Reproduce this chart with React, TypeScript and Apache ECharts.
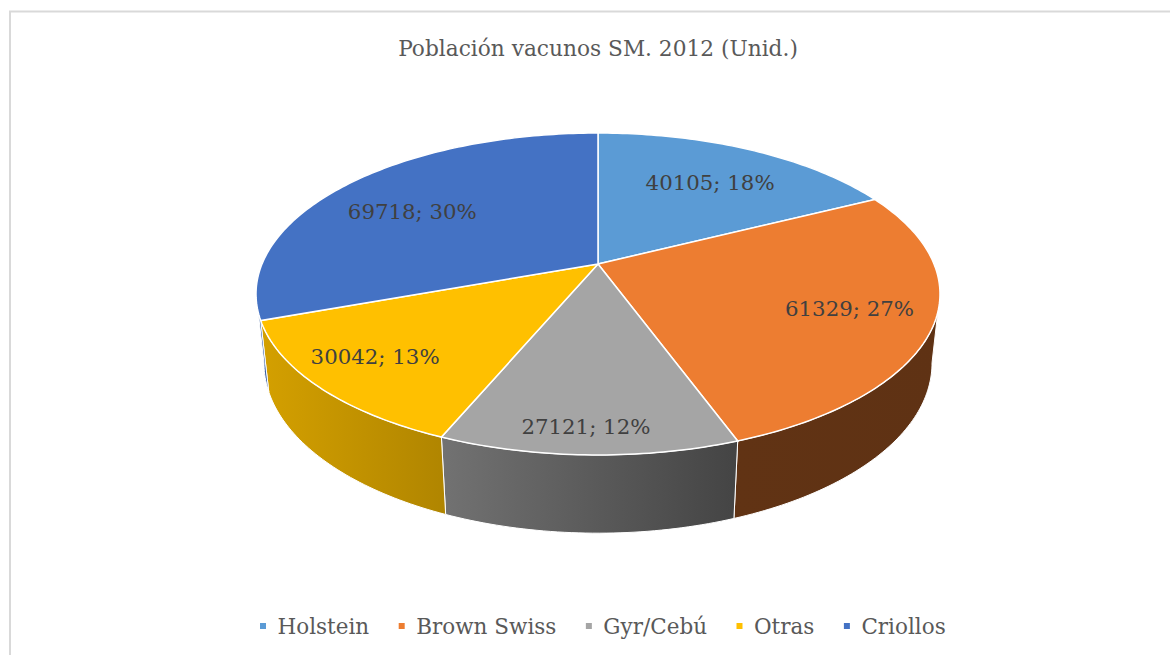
import React, { useEffect, useRef } from "react";
import * as echarts from "echarts";

// ---- data ----
const TITLE = "Población vacunos SM. 2012 (Unid.)";
const CATEGORIES = ["Holstein", "Brown Swiss", "Gyr/Cebú", "Otras", "Criollos"];
const VALUES = [40105, 61329, 27121, 30042, 69718];
const PERCENT_LABELS = [18, 27, 12, 13, 30];

// ---- styles / layout ----
const COLORS = ["#5B9BD5", "#ED7D31", "#A5A5A5", "#FFC000", "#4472C4"];
const LABEL_RADIUS = [0.68, 0.76, 0.875, 0.79, 0.74];
const LABEL_NUDGE = [
  [4, 0],
  [1, -1],
  [-4, 0],
  [-9, -2],
  [3, 9],
];
const FONT = "DejaVu Serif";

// perspective projection of the 3D pie (screen px)
const P = { cx: 598, A: 264, B: 106.2, C: -0.1863, E: 336, F: 75.9, G: 0.023 };
// wall shading along angle (deg, factor)
const SHADE: [number, number][] = [
  [100, 0.4],
  [160, 0.41],
  [202, 0.69],
  [260, 0.86],
];
const WALL_LO = 100.4;
const WALL_HI = 259.6;

function project(phiDeg: number, rho: number, down: number): number[] {
  const r = (phiDeg * Math.PI) / 180;
  const X = rho * Math.sin(r);
  const Z = -rho * Math.cos(r);
  const w = 1 + P.C * Z + P.G * down;
  return [P.cx + (P.E * X) / w, (P.A + P.B * Z + P.F * down) / w];
}

function shadeFactor(phi: number): number {
  if (phi <= SHADE[0][0]) return SHADE[0][1];
  for (let i = 1; i < SHADE.length; i++) {
    if (phi <= SHADE[i][0]) {
      const [a0, f0] = SHADE[i - 1];
      const [a1, f1] = SHADE[i];
      return f0 + ((phi - a0) / (a1 - a0)) * (f1 - f0);
    }
  }
  return SHADE[SHADE.length - 1][1];
}

function shadeColor(hex: string, f: number): string {
  const n = parseInt(hex.slice(1), 16);
  const r = Math.round(((n >> 16) & 255) * f);
  const g = Math.round(((n >> 8) & 255) * f);
  const b = Math.round((n & 255) * f);
  return `rgb(${r},${g},${b})`;
}

function arc(from: number, to: number, down: number): number[][] {
  const steps = Math.max(2, Math.ceil(Math.abs(to - from)));
  const pts: number[][] = [];
  for (let i = 0; i <= steps; i++) {
    pts.push(project(from + ((to - from) * i) / steps, 1, down));
  }
  return pts;
}

const TOTAL = VALUES.reduce((s, v) => s + v, 0);

function makeRenderItem(idx: number) {
  return (_params: any, api: any) => {
    const v = api.value(0);
    const before = VALUES.slice(0, idx).reduce((s, x) => s + x, 0);
    const a = (before / TOTAL) * 360;
    const b = ((before + v) / TOTAL) * 360;
    const children: any[] = [];

    // side wall (front-facing part only)
    const wa = Math.max(a, WALL_LO);
    const wb = Math.min(b, WALL_HI);
    if (wa < wb) {
      const pts = arc(wa, wb, 0).concat(arc(wb, wa, 1));
      children.push({
        type: "polygon",
        shape: { points: pts },
        style: {
          fill: new echarts.graphic.LinearGradient(0, 0, 1, 0, [
            { offset: 0, color: shadeColor(COLORS[idx], shadeFactor(wb)) },
            { offset: 1, color: shadeColor(COLORS[idx], shadeFactor(wa)) },
          ]),
          stroke: "#ffffff",
          lineWidth: 1,
        },
      });
    }

    // top face
    const top = [project(0, 0, 0)].concat(arc(a, b, 0));
    children.push({
      type: "polygon",
      shape: { points: top },
      style: { fill: COLORS[idx], stroke: "#ffffff", lineWidth: 1.5 },
    });

    // label
    const mid = (a + b) / 2;
    const [lx, ly] = project(mid, LABEL_RADIUS[idx], 0);
    children.push({
      type: "text",
      x: lx + LABEL_NUDGE[idx][0],
      y: ly + LABEL_NUDGE[idx][1],
      style: {
        text: `${v}; ${PERCENT_LABELS[idx]}%`,
        fill: "#404040",
        fontSize: 21.3,
        fontFamily: FONT,
        align: "center",
        verticalAlign: "middle",
      },
    });

    return { type: "group", children };
  };
}

export default function App() {
  const ref = useRef<HTMLDivElement>(null);

  useEffect(() => {
    if (!ref.current) return;
    const chart = echarts.init(ref.current, undefined, { renderer: "svg" });
    chart.setOption({
      animation: false,
      backgroundColor: "#ffffff",
      color: COLORS,
      textStyle: { fontFamily: FONT },
      graphic: [
        {
          type: "rect",
          silent: true,
          z: -10,
          shape: { x: 10, y: 11.5, width: 1400, height: 900 },
          style: { fill: "none", stroke: "#d9d9d9", lineWidth: 2 },
        },
        {
          type: "text",
          x: 598,
          y: 48,
          silent: true,
          style: {
            text: TITLE,
            fill: "#595959",
            fontSize: 21.7,
            fontFamily: FONT,
            align: "center",
            verticalAlign: "middle",
          },
        },
      ],
      legend: {
        data: CATEGORIES,
        left: 255,
        top: 610,
        orient: "horizontal",
        itemWidth: 19,
        itemHeight: 6,
        itemGap: 29.5,
        icon: "path://M0,0L10,0L10,10L0,10Z",
        selectedMode: false,
        textStyle: { fontFamily: FONT, fontSize: 21.5, color: "#595959" },
      },
      series: CATEGORIES.map((name, i) => ({
        type: "custom",
        name,
        coordinateSystem: "none",
        silent: true,
        itemStyle: { color: COLORS[i] },
        data: [[VALUES[i]]],
        renderItem: makeRenderItem(i),
      })),
    });
    return () => chart.dispose();
  }, []);

  return (
    <div
      ref={ref}
      style={{ position: "fixed", left: 0, top: 0, width: 1170, height: 655 }}
    />
  );
}
